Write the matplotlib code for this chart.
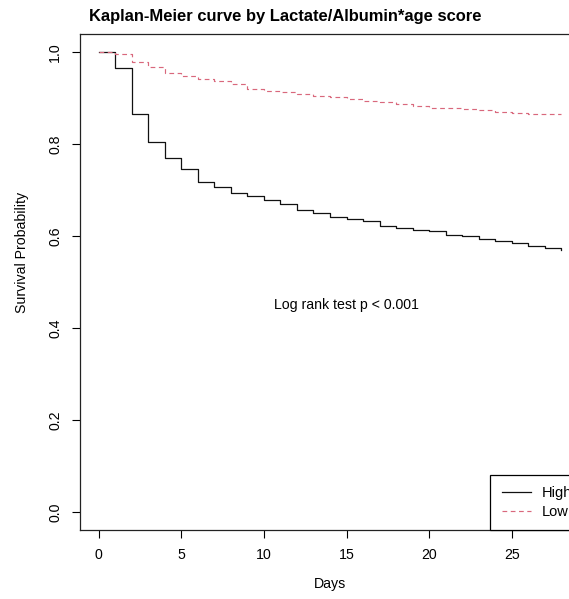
import matplotlib
matplotlib.use('Agg')
import matplotlib.pyplot as plt

plt.rcParams['font.family'] = ['Liberation Sans', 'DejaVu Sans']

# Kaplan-Meier step values, one per day (value held over [day, day+1))
days = list(range(0, 29))
surv_high = [1.000, 0.965, 0.866, 0.804, 0.771, 0.746, 0.718, 0.708, 0.693, 0.687,
             0.679, 0.670, 0.656, 0.651, 0.642, 0.638, 0.633, 0.622, 0.618, 0.614,
             0.611, 0.603, 0.600, 0.594, 0.589, 0.585, 0.578, 0.575, 0.569]
surv_low = [1.000, 0.996, 0.980, 0.968, 0.956, 0.949, 0.942, 0.937, 0.931, 0.921,
            0.917, 0.913, 0.909, 0.905, 0.902, 0.899, 0.895, 0.891, 0.888, 0.884,
            0.880, 0.878, 0.876, 0.874, 0.871, 0.869, 0.867, 0.865, 0.865]
x_ticks = [0, 5, 10, 15, 20, 25]
y_ticks = [0.0, 0.2, 0.4, 0.6, 0.8, 1.0]
group_labels = ['High', 'Low']

W, H = 569, 599
fig = plt.figure(figsize=(W / 100, H / 100), dpi=100)
# plot region runs past the right edge of the picture (cropped like the original)
ax = fig.add_axes([80 / W, (H - 530.4) / H, 500 / W, 496.4 / H])

lw = 0.9
ax.plot(days, surv_high, drawstyle='steps-post', color='#111111', lw=lw, label=group_labels[0])
ax.plot(days, surv_low, drawstyle='steps-post', color='#D9687C', lw=0.85,
        dashes=(4, 3), label=group_labels[1])

ax.set_xlim(-1.12, 29.12)
ax.set_ylim(-0.04, 1.04)
ax.set_xticks(x_ticks)
ax.set_yticks(y_ticks)
ax.set_yticklabels([f'{v:.1f}' for v in y_ticks])
ax.tick_params(length=5.8, width=0.8, labelsize=10.2, pad=7)
for lbl in ax.get_yticklabels():
    lbl.set_rotation(90)
    lbl.set_va('center')
for s in ax.spines.values():
    s.set_linewidth(0.9)
    s.set_color('#222222')

ax.text(15, 0.45, 'Log rank test p < 0.001', ha='center', va='center', fontsize=10.2)

ax.set_xlabel('Days', fontsize=10.2, labelpad=10.5)
fig.text(22 / W, 1 - 252 / H, 'Survival Probability', rotation=90,
         ha='center', va='center', fontsize=10.2)
fig.text(285.5 / W, 1 - 17 / H, 'Kaplan-Meier curve by Lactate/Albumin*age score',
         ha='center', va='center', fontsize=11.9, fontweight='bold')

# legend box sits on the bottom axis, its right part cut off by the picture edge
leg = ax.legend(loc='lower left', bbox_to_anchor=((490 - 80) / 500, 0), borderaxespad=0,
                fontsize=10.5, fancybox=False, edgecolor='black', framealpha=1,
                handlelength=2.0, handletextpad=0.75, borderpad=0.8, labelspacing=0.3)
leg.get_frame().set_linewidth(0.9)

fig.savefig('out.png', dpi=100)
